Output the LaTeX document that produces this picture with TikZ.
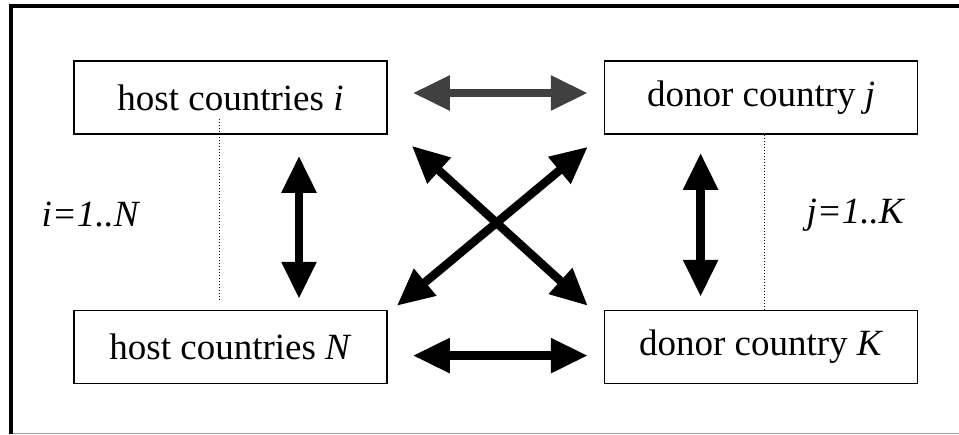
\documentclass[tikz,border=0pt]{standalone}
\usepackage{fontspec}
\setmainfont{Liberation Serif}
\usetikzlibrary{positioning, arrows.meta}

\begin{document}
\begin{tikzpicture}[x=1pt, y=-1pt]
  \newcommand\countryboxwidth{313pt}
  \newcommand\countryboxheight{73pt}
  \newcommand\countryboxgapx{216pt}
  \newcommand\countryboxgapy{175pt}

  \tikzset{countrybox/.style={draw, line width=1.6pt, inner sep=0pt, minimum width=\countryboxwidth, minimum height=\countryboxheight, font=\fontsize{37}{44}\selectfont}}
  \tikzset{rangelabel/.style={inner sep=0pt, font=\fontsize{37}{44}\selectfont\itshape}}
  \tikzset{bigarrow/.style={line width=8.5pt, {Triangle[length=37pt, width=33pt]}-{Triangle[length=37pt, width=33pt]}}}
  \tikzset{indexline/.style={line width=1pt, dotted}}

  \useasboundingbox (0,0) rectangle (959,434);

  % frame
  \draw[line width=4pt] (11,434) -- (11,6) -- (959,6);
  \draw[line width=1.2pt, black!38] (13,433.4) -- (959,433.4);

  \node[countrybox] at (230.5, 97.5) (hosti) {host countries \textit{i}};
  \node[countrybox, right=\countryboxgapx of hosti] (donorj) {donor country \textit{j}};
  \node[countrybox, below=\countryboxgapy of hosti] (hostN) {host countries \textit{N}};
  \node[countrybox, right=\countryboxgapx of hostN] (donorK) {donor country \textit{K}};

  \node[rangelabel] at (90, 215) (irange) {i=1..N};
  \node[rangelabel] at (855, 215) (jrange) {j=1..K};

  \draw[indexline] ([shift={(-11.5,-16)}]hosti.south) -- ([shift={(-11.5,-8)}]hostN.north);
  \draw[indexline] ([xshift=3.5pt]donorj.south) -- ([xshift=3.5pt]donorK.north);

  \draw[bigarrow, black!75] ([shift={(25,-4.5)}]hosti.east) -- ([shift={(-16,-4.5)}]donorj.west);
  \draw[bigarrow] ([shift={(25,8.5)}]hostN.east) -- ([shift={(-16,8.5)}]donorK.west);
  \draw[bigarrow] ([shift={(68.5,21)}]hosti.south) -- ([shift={(68.5,-11)}]hostN.north);
  \draw[bigarrow] ([shift={(-60.5,18)}]donorj.south) -- ([shift={(-60.5,-13)}]donorK.north);
  \draw[bigarrow] ([shift={(24,11)}]hosti.south east) -- ([shift={(-16,-4)}]donorK.north west);
  \draw[bigarrow] ([shift={(-16,12)}]donorj.south west) -- ([shift={(9,-4)}]hostN.north east);
\end{tikzpicture}
\end{document}
